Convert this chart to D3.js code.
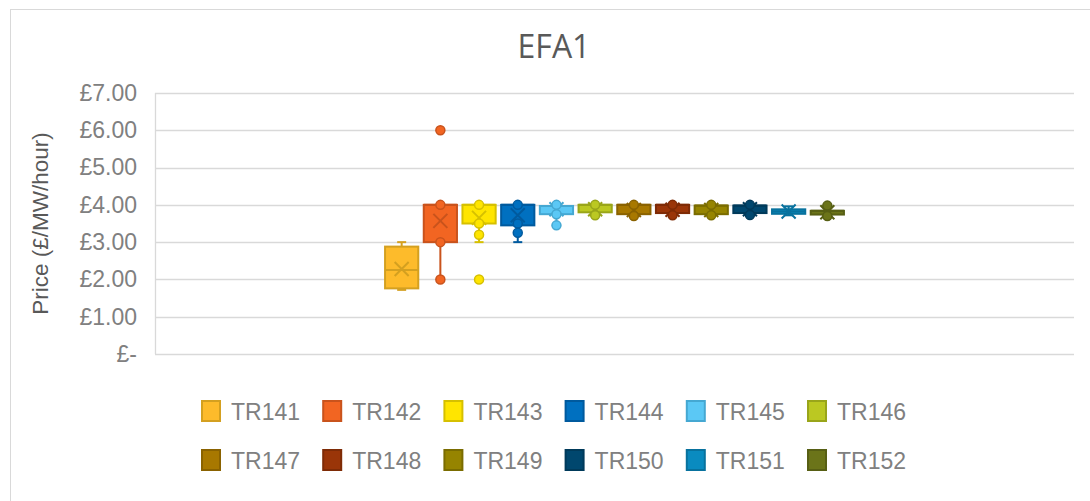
<!DOCTYPE html>
<html><head><meta charset="utf-8">
<script src="https://cdn.jsdelivr.net/npm/d3@7"></script>
<style>html,body{margin:0;padding:0;background:#fff;}svg{display:block;}</style>
</head><body>
<svg id="chart" width="1090" height="501"></svg>
<script>
const title = "EFA1";
const yTitle = "Price (£/MW/hour)";
const series = ["TR141","TR142","TR143","TR144","TR145","TR146","TR147","TR148","TR149","TR150","TR151","TR152"];
const whiskerLow  = [1.72, 2.00, 3.00, 3.00, 3.45, 3.72, 3.70, 3.72, 3.72, 3.73, 3.72, 3.70];
const q1          = [1.76, 3.00, 3.50, 3.45, 3.75, 3.80, 3.75, 3.78, 3.75, 3.78, 3.76, 3.74];
const median      = [2.25, 4.00, 4.00, 4.00, 3.97, 4.00, 4.00, 4.00, 3.98, 3.98, 3.82, 3.84];
const q3          = [2.88, 4.00, 4.00, 4.00, 3.97, 4.00, 4.00, 4.00, 3.98, 3.98, 3.88, 3.84];
const whiskerHigh = [3.00, 4.00, 4.00, 4.00, 4.00, 4.00, 4.00, 4.00, 4.00, 4.00, 3.96, 3.98];
const means       = [2.28, 3.57, 3.65, 3.72, 3.88, 3.88, 3.86, 3.87, 3.86, 3.88, 3.82, 3.80];
const points = [
  [],
  [6.0, 4.0, 3.0, 2.0],
  [4.0, 3.5, 3.2, 2.0],
  [4.0, 3.5, 3.25],
  [4.0, 3.75, 3.45],
  [4.0, 3.72],
  [4.0, 3.70],
  [4.0, 3.72],
  [4.0, 3.72],
  [4.0, 3.73],
  [],
  [3.98, 3.70]
];
const yTicks = [0,1,2,3,4,5,6,7];
const tickLabels = ["£-","£1.00","£2.00","£3.00","£4.00","£5.00","£6.00","£7.00"];
const fills   = ["#FDBB2B","#F26522","#FFE500","#0070C0","#5BC8F5","#BBC822","#A87800","#9A3508","#968400","#00476E","#0A8BC0","#6B7419"];
const strokes = ["#D4A020","#C9531C","#D6C000","#005A9E","#45A8D2","#99A51A","#8A6200","#7E2B06","#7A6C00","#003A5A","#08729E","#575F14"];

const svg = d3.select("#chart");
const plot = {left:155, right:1074, top:93, bottom:354};

// chart frame
svg.append("line").attr("x1",10.5).attr("x2",10.5).attr("y1",9).attr("y2",501).attr("stroke","#D9D9D9");
svg.append("line").attr("x1",10).attr("x2",1090).attr("y1",9.5).attr("y2",9.5).attr("stroke","#D9D9D9");

const y = d3.scaleLinear().domain([0,7]).range([plot.bottom, plot.top]);
const x0 = d3.scaleBand().domain([title]).range([plot.left, plot.right]).paddingInner(0).paddingOuter(0.497);
const x1 = d3.scaleBand().domain(series).range([0, x0.bandwidth()]).paddingInner(0.09);

// gridlines
svg.append("g").selectAll("line").data(yTicks).join("line")
  .attr("x1",plot.left).attr("x2",plot.right)
  .attr("y1",d=>Math.round(y(d))+0.5).attr("y2",d=>Math.round(y(d))+0.5)
  .attr("stroke","#D9D9D9").attr("stroke-width",1.3);
svg.append("line").attr("x1",plot.left+0.5).attr("x2",plot.left+0.5)
  .attr("y1",y(7)).attr("y2",y(0)).attr("stroke","#D9D9D9").attr("stroke-width",1.3);

// y axis
const yAxis = d3.axisLeft(y).tickValues(yTicks).tickFormat((d,i)=>tickLabels[i]).tickSize(0).tickPadding(18);
const ag = svg.append("g").attr("transform",`translate(${plot.left},0)`).call(yAxis);
ag.select(".domain").remove();
ag.selectAll("text").attr("font-family","'Liberation Sans', Arial, sans-serif").attr("font-size",23).attr("fill","#808080");

// y title
svg.append("text").attr("transform",`translate(48,${(plot.top+plot.bottom)/2}) rotate(-90)`)
  .attr("text-anchor","middle").attr("font-family","'Liberation Sans', Arial, sans-serif")
  .attr("font-size",22.5).attr("fill","#595959").text(yTitle);

// title
svg.append("text").attr("x",554).attr("y",58).attr("text-anchor","middle")
  .attr("font-family","'Open Sans', sans-serif").attr("font-size",32).attr("fill","#595959").text(title);

// boxes
const gBoxes = svg.append("g");
series.forEach((s,i)=>{
  const bx = x0(title) + x1(s);
  const bw = x1.bandwidth();
  const cx = bx + bw/2;
  const g = gBoxes.append("g");
  const st = strokes[i], fl = fills[i];
  g.append("line").attr("x1",cx).attr("x2",cx).attr("y1",y(q1[i])).attr("y2",y(whiskerLow[i])).attr("stroke",st).attr("stroke-width",2);
  g.append("line").attr("x1",cx).attr("x2",cx).attr("y1",y(q3[i])).attr("y2",y(whiskerHigh[i])).attr("stroke",st).attr("stroke-width",2);
  if (whiskerLow[i] < q1[i]) g.append("line").attr("x1",cx-4.5).attr("x2",cx+4.5).attr("y1",y(whiskerLow[i])).attr("y2",y(whiskerLow[i])).attr("stroke",st).attr("stroke-width",2);
  if (whiskerHigh[i] > q3[i]) g.append("line").attr("x1",cx-4.5).attr("x2",cx+4.5).attr("y1",y(whiskerHigh[i])).attr("y2",y(whiskerHigh[i])).attr("stroke",st).attr("stroke-width",2);
  g.append("rect").attr("x",bx+1).attr("width",bw-2).attr("y",y(q3[i])).attr("height",Math.max(2,y(q1[i])-y(q3[i])))
    .attr("fill",fl).attr("stroke",st).attr("stroke-width",2);
  g.append("line").attr("x1",bx+1).attr("x2",bx+bw-1).attr("y1",y(median[i])).attr("y2",y(median[i])).attr("stroke",st).attr("stroke-width",2);
  const my = y(means[i]), m = 7;
  g.append("path").attr("d",`M${cx-m},${my-m}L${cx+m},${my+m}M${cx-m},${my+m}L${cx+m},${my-m}`)
    .attr("stroke",st).attr("stroke-width",2).attr("fill","none");
  g.selectAll("circle").data(points[i]).join("circle")
    .attr("cx",cx).attr("cy",d=>y(d)).attr("r",4.5).attr("fill",fl).attr("stroke",st).attr("stroke-width",1.5);
});

// legend
const legX = d3.scaleBand().domain(d3.range(6)).range([201, 201+6*121.2]);
const legY = [400, 449];
const leg = svg.append("g").selectAll("g").data(series).join("g")
  .attr("transform",(d,i)=>`translate(${legX(i%6)},${legY[Math.floor(i/6)]})`);
leg.append("rect").attr("x",1).attr("y",1).attr("width",18).attr("height",20)
  .attr("fill",(d,i)=>fills[i]).attr("stroke",(d,i)=>strokes[i]).attr("stroke-width",2);
leg.append("text").attr("x",30).attr("y",19.5).attr("font-family","'Liberation Sans', Arial, sans-serif")
  .attr("font-size",23).attr("fill","#808080").text(d=>d);
</script>
</body></html>
